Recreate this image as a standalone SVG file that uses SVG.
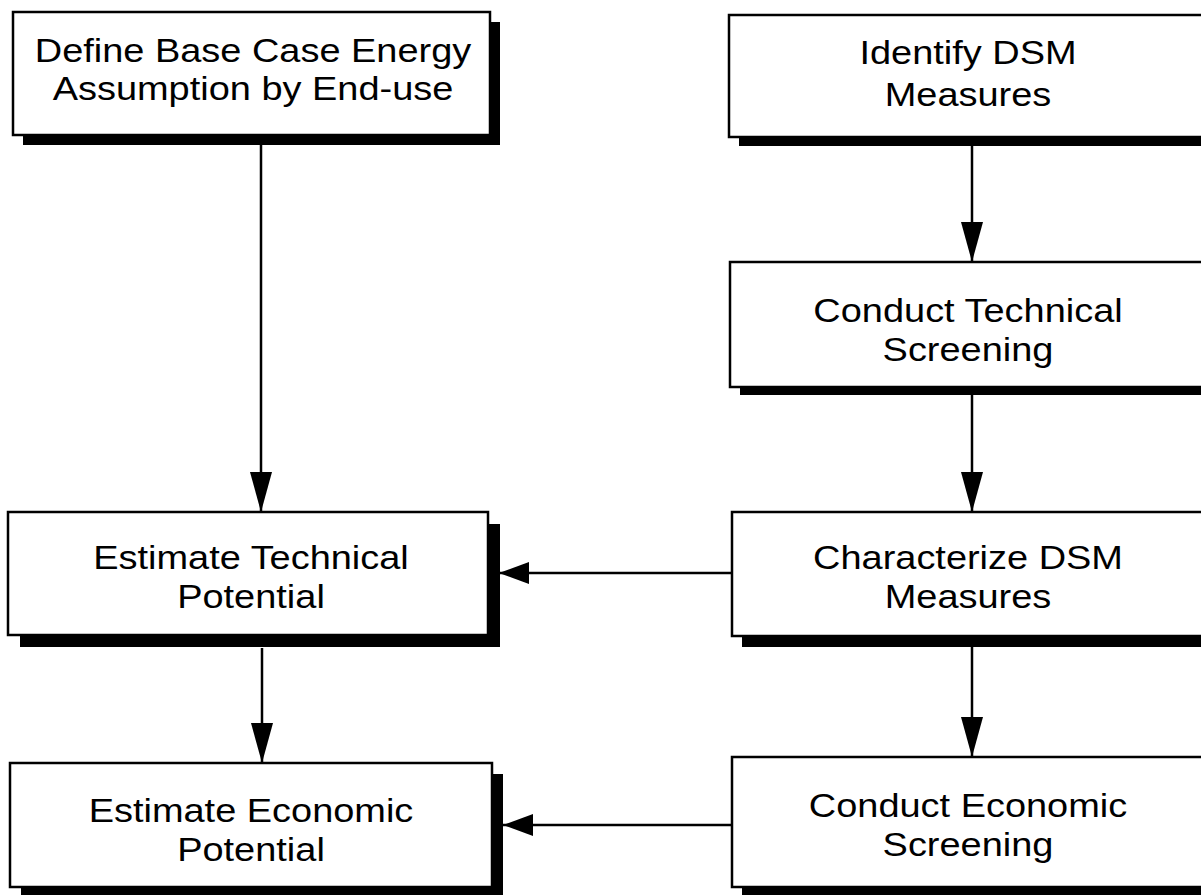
<svg xmlns="http://www.w3.org/2000/svg" width="1201" height="895" viewBox="0 0 1201 895">
<defs>
<style>
.box{fill:#fff;stroke:#000;stroke-width:2.5}
.sh{fill:#000}
.lbl{font-family:"Liberation Sans",Arial,sans-serif;font-size:33px;fill:#000;text-anchor:middle}
.ln{stroke:#000;stroke-width:2.5;fill:none}
</style>
<marker id="av" markerUnits="userSpaceOnUse" markerWidth="42" markerHeight="24" refX="40" refY="11" orient="auto"><path d="M0,0 L40,11 L0,22 z" fill="#000"/></marker>
<marker id="ah" markerUnits="userSpaceOnUse" markerWidth="32" markerHeight="24" refX="30" refY="11" orient="auto"><path d="M0,0 L30,11 L0,22 z" fill="#000"/></marker>
</defs>
<rect width="1201" height="895" fill="#fff"/>
<g id="connectors">
<line class="ln" x1="261" y1="145" x2="261" y2="512" marker-end="url(#av)"/>
<line class="ln" x1="262" y1="648" x2="262" y2="763" marker-end="url(#av)"/>
<line class="ln" x1="972" y1="146" x2="972" y2="262" marker-end="url(#av)"/>
<line class="ln" x1="972" y1="395" x2="972" y2="512" marker-end="url(#av)"/>
<line class="ln" x1="972" y1="647" x2="972" y2="757" marker-end="url(#av)"/>
<line class="ln" x1="732" y1="573" x2="499" y2="573" marker-end="url(#ah)"/>
<line class="ln" x1="732" y1="825" x2="503" y2="825" marker-end="url(#ah)"/>
</g>
<g id="n1">
<rect class="sh" x="23" y="22" width="477" height="123"/>
<rect class="box" x="13" y="12" width="477" height="123"/>
<g transform="translate(253 0) scale(1.15 1)"><text class="lbl" x="0" y="62">Define Base Case Energy</text><text class="lbl" x="0" y="100">Assumption by End-use</text></g>
</g>
<g id="n2">
<rect class="sh" x="739" y="24" width="480" height="122"/>
<rect class="box" x="729" y="15" width="480" height="122"/>
<g transform="translate(968 0) scale(1.15 1)"><text class="lbl" x="0" y="64">Identify DSM</text><text class="lbl" x="0" y="106">Measures</text></g>
</g>
<g id="n3">
<rect class="sh" x="740" y="270" width="480" height="125"/>
<rect class="box" x="730" y="262" width="480" height="125"/>
<g transform="translate(968 0) scale(1.15 1)"><text class="lbl" x="0" y="322">Conduct Technical</text><text class="lbl" x="0" y="361">Screening</text></g>
</g>
<g id="n4">
<rect class="sh" x="20" y="524" width="480" height="123"/>
<rect class="box" x="8" y="512" width="480" height="123"/>
<g transform="translate(251 0) scale(1.15 1)"><text class="lbl" x="0" y="569">Estimate Technical</text><text class="lbl" x="0" y="608">Potential</text></g>
</g>
<g id="n5">
<rect class="sh" x="742" y="523" width="480" height="124"/>
<rect class="box" x="732" y="512" width="480" height="124"/>
<g transform="translate(968 0) scale(1.15 1)"><text class="lbl" x="0" y="569">Characterize DSM</text><text class="lbl" x="0" y="608">Measures</text></g>
</g>
<g id="n6">
<rect class="sh" x="21" y="774" width="482" height="124"/>
<rect class="box" x="10" y="763" width="482" height="124"/>
<g transform="translate(251 0) scale(1.15 1)"><text class="lbl" x="0" y="822">Estimate Economic</text><text class="lbl" x="0" y="861">Potential</text></g>
</g>
<g id="n7">
<rect class="sh" x="742" y="765" width="480" height="130"/>
<rect class="box" x="732" y="757" width="480" height="130"/>
<g transform="translate(968 0) scale(1.15 1)"><text class="lbl" x="0" y="817">Conduct Economic</text><text class="lbl" x="0" y="856">Screening</text></g>
</g>
</svg>
